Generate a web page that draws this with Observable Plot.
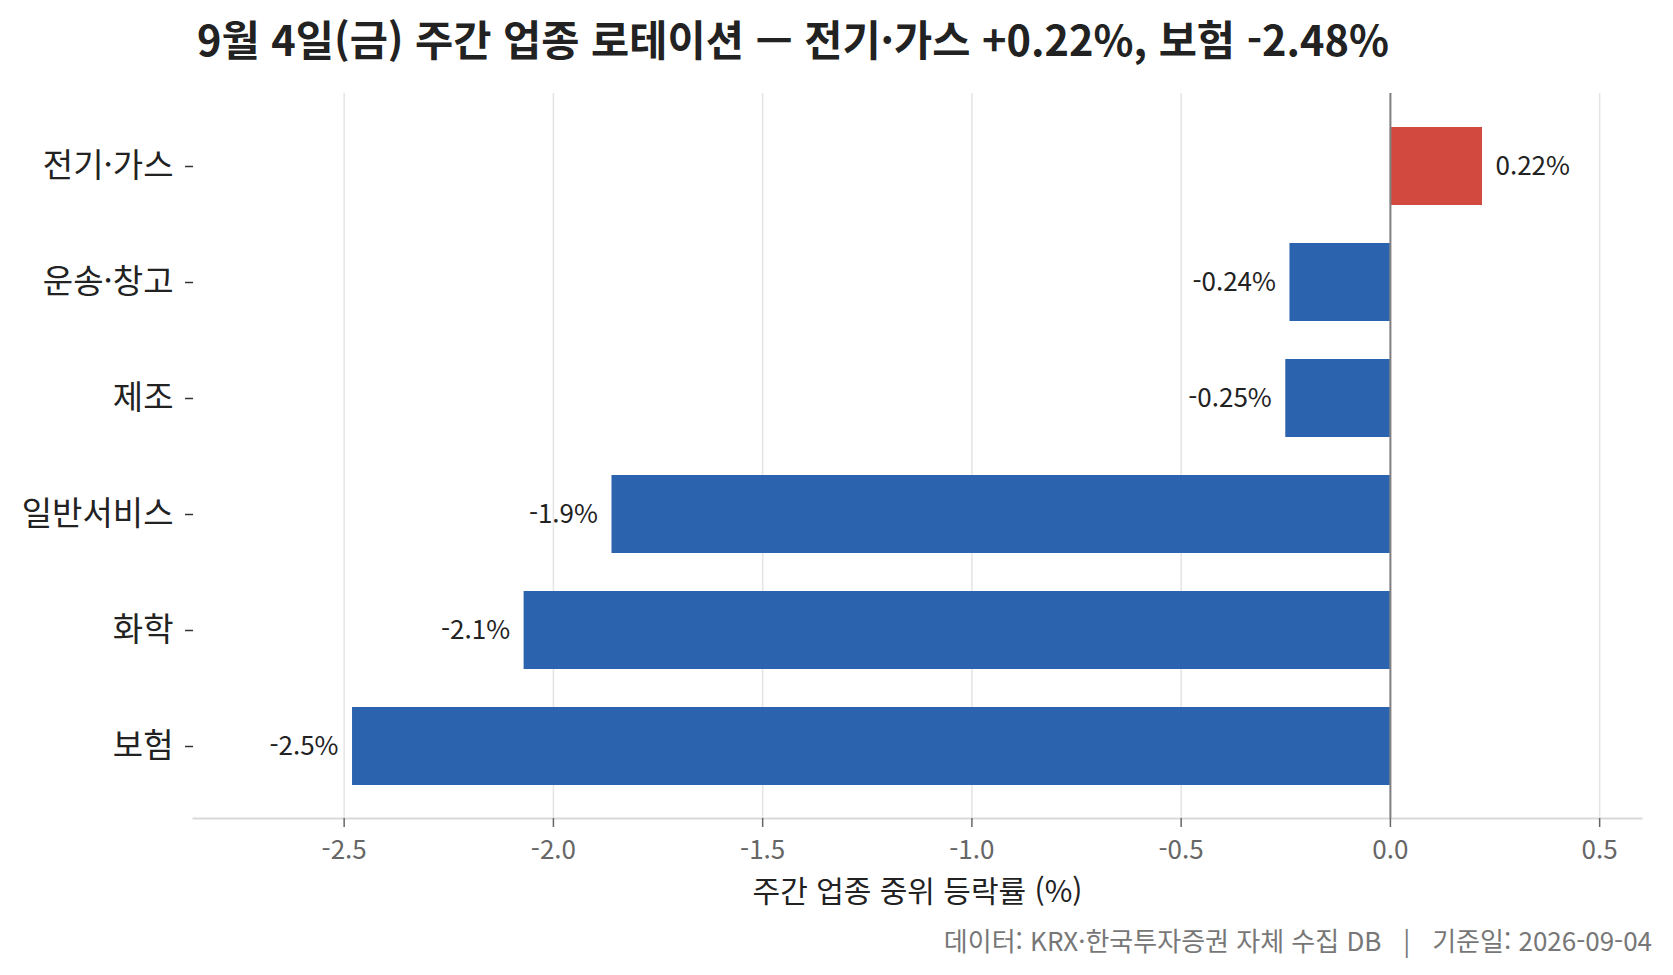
<!DOCTYPE html>
<html lang="ko">
<head>
<meta charset="utf-8">
<script src="https://cdn.jsdelivr.net/npm/d3@7"></script>
<script src="https://cdn.jsdelivr.net/npm/@observablehq/plot@0.6"></script>
<style>
  html, body { margin: 0; padding: 0; background: #fff; }
  body { width: 1673px; height: 975px; overflow: hidden; font-family: "Noto Sans CJK KR", "Noto Sans", sans-serif; }
  #title { box-sizing: border-box; height: 60px; padding-top: 18px; padding-left: 197px; font-size: 41.5px; line-height: 41.5px; font-weight: 700; color: #222; white-space: nowrap; }
  #caption { box-sizing: border-box; height: 55px; padding-top: 7px; padding-right: 21px; text-align: right; font-size: 26px; line-height: 26px; color: #777; white-space: nowrap; }
  #chart svg { display: block; }
</style>
</head>
<body>
<div id="title">9월 4일(금) 주간 업종 로테이션 — 전기·가스 +0.22%, 보험 -2.48%</div>
<div id="chart"></div>
<div id="caption">데이터: KRX·한국투자증권 자체 수집 DB &nbsp; | &nbsp; 기준일: 2026-09-04</div>
<script>
const categories = ["전기·가스", "운송·창고", "제조", "일반서비스", "화학", "보험"];
const values = [0.22, -0.24, -0.25, -1.86, -2.07, -2.48];
const xTicks = [-2.5, -2.0, -1.5, -1.0, -0.5, 0.0, 0.5];
const xLabel = "주간 업종 중위 등락률 (%)";
const upColor = "#d1493f";
const downColor = "#2b63ae";

const data = categories.map((c, i) => ({cat: c, value: values[i]}));
const fmt = d => d.value.toPrecision(2) + "%";

const chart = Plot.plot({
  width: 1673,
  height: 860,
  marginTop: 33,
  marginBottom: 102,
  marginLeft: 193,
  marginRight: 32,
  style: {fontFamily: "'Noto Sans CJK KR', 'Noto Sans', sans-serif", background: "#fff", overflow: "visible"},
  x: {domain: [-2.86, 0.60]},
  y: {domain: categories, paddingInner: 0.33, paddingOuter: 0.285, label: null},
  marks: [
    Plot.gridX(xTicks, {stroke: "#e4e4e4", strokeOpacity: 1, strokeWidth: 1.5}),
    Plot.frame({anchor: "bottom", stroke: "#d9d9d9", strokeWidth: 2}),
    Plot.barX(data, {x: "value", y: "cat", fill: d => d.value >= 0 ? upColor : downColor}),
    Plot.ruleX([0], {stroke: "#808080", strokeWidth: 2}),
    Plot.text(data.filter(d => d.value >= 0), {x: "value", y: "cat", text: fmt, textAnchor: "start", dx: 13, fontSize: 26, fill: "#222"}),
    Plot.text(data.filter(d => d.value < 0), {x: "value", y: "cat", text: fmt, textAnchor: "end", dx: -14, fontSize: 26, fill: "#222"}),
    Plot.axisX({ticks: xTicks, tickFormat: d => d.toFixed(1), tickSize: 9, tickPadding: 13, fontSize: 26, fill: "#666", stroke: "#666", strokeWidth: 1.5, label: null}),
    Plot.axisX({ticks: [], tickSize: 0, label: xLabel, labelAnchor: "center", labelArrow: "none", labelOffset: 83, fontSize: 30, fill: "#222"}),
    Plot.axisY({tickSize: 8, tickPadding: 12, fontSize: 33, fill: "#222", stroke: "#333", strokeWidth: 1.5, label: null})
  ]
});
document.getElementById("chart").appendChild(chart);
</script>
</body>
</html>
